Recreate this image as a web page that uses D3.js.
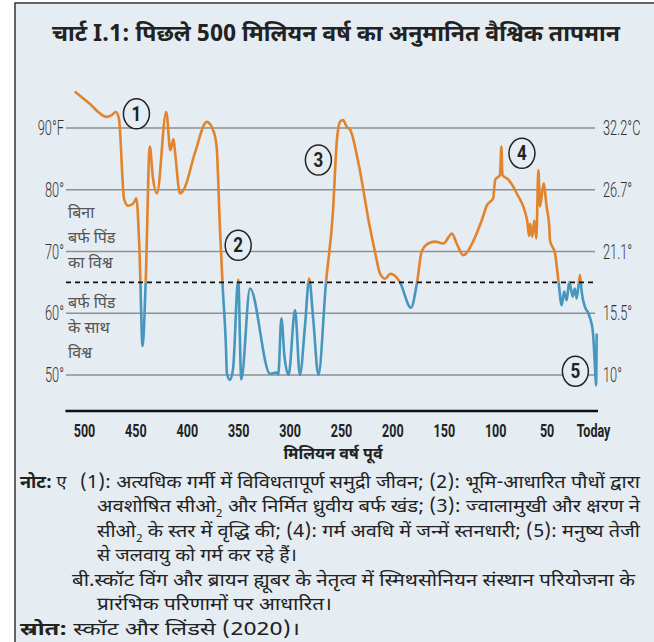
<!DOCTYPE html>
<html>
<head>
<meta charset="utf-8">
<script src="https://cdn.jsdelivr.net/npm/d3@7"></script>
<style>
  body { margin: 0; background: #fff; }
  svg { display: block; }
  .num { font-family: "Roboto", "Liberation Sans", sans-serif; }
  .dev { font-family: "Noto Sans Devanagari", "Lohit Devanagari", "FreeSans", sans-serif; }
</style>
</head>
<body>
<svg id="chart" width="654" height="642"></svg>
<script>
// million years ago, estimated global temperature (°F)
var mya = [509, 495, 478, 473, 469, 466, 461, 457, 452, 449, 446, 443, 440, 436, 433, 429,
  420, 416, 413, 411.5, 406.6, 403, 392, 380.6, 374.5, 371, 367.7, 365, 362, 361, 358, 355,
  350, 347, 338.5, 319, 313, 311, 308, 305, 301, 294.7, 290, 285, 281, 277, 272, 264.6,
  258, 254, 251, 248, 244.5, 241, 233, 222, 217, 212, 207, 202, 196, 192.6, 182, 176,
  171.5, 165, 158.6, 150.5, 142, 137.5, 131, 121, 113, 108, 102, 100, 95.3, 94, 93, 87,
  79, 69, 67, 66, 64, 62, 60, 58, 56.4, 53, 50, 47.4, 46.7, 41.8, 38.6, 35.3, 33, 30.5,
  28, 24.6, 22.5, 20.7, 17.5, 15.9, 12.6, 9.4, 5.2, 2.9, 1.9, 1.3];
var tempF = [95.9, 94.0, 91.8, 92.1, 92.6, 91.5, 78.5, 77.4, 77.8, 78.6, 70, 54.7, 65, 87, 82, 79.4,
  92.6, 86.4, 88.2, 86.2, 79.4, 80, 86, 91, 89.7, 87, 73.5, 64, 55, 50.2, 49.2, 51,
  65.4, 49.3, 64, 50.2, 50.4, 50.1, 59.2, 53, 50, 60.5, 50, 58, 65.6, 59, 50, 65,
  76, 88, 91, 91.3, 90.2, 89.7, 84.3, 74, 70, 66.4, 65.6, 66.4, 65.8, 65, 60.9, 65,
  70, 71.3, 71.6, 71.3, 72.9, 71.3, 69.4, 71.8, 75.1, 77.5, 78.6, 81.6, 82.4, 87, 82.4, 81.6,
  79.4, 75.1, 72.5, 74.5, 72.4, 75, 72.1, 83.2, 77.3, 81, 77.3, 74, 71.8, 69.7, 65.4, 61.3, 63.5, 62.1,
  65.1, 62.7, 64, 62.4, 66.2, 63.5, 61, 60, 57.3, 51.3, 48.3, 56.7];

var gridF = [90, 80, 70, 60, 50];
var leftLabels = ["90°F", "80°", "70°", "60°", "50°"];
var rightLabels = ["32.2°C", "26.7°", "21.1°", "15.5°", "10°"];
var iceLine = 65;
var xTicks = [500, 450, 400, 350, 300, 250, 200, 150, 100, 50, 0];

// numbered events: [mya, °F]
var eventNo = ["1", "2", "3", "4", "5"];
var eventAt = [[449, 92.3], [350, 71.0], [272, 84.8], [74, 85.9], [22, 50.6]];

var title = "चार्ट I.1: पिछले 500 मिलियन वर्ष का अनुमानित वैश्विक तापमान";

var svg = d3.select("#chart");
var orange = "#e3832b", blue = "#4696bd", bg = "#e5ecf2";

svg.append("rect").attr("x", 15).attr("y", 3).attr("width", 700).attr("height", 700)
  .attr("fill", bg).attr("stroke", "#333").attr("stroke-width", 1.5);

svg.append("text").attr("class", "dev").attr("x", 52).attr("y", 41)
  .attr("textLength", 568).attr("lengthAdjust", "spacingAndGlyphs")
  .attr("font-size", 23).attr("font-weight", "bold").attr("fill", "#222").text(title);

var x = d3.scaleLinear().domain([500, 0]).range([84, 598]);
var y = d3.scaleLinear().domain([50, 90]).range([375, 128]);

// grid lines + labels (condensed by horizontal scaling)
var g = svg.append("g");
g.selectAll("line.grid").data(gridF).enter().append("line")
  .attr("x1", 66).attr("x2", 595)
  .attr("y1", d => y(d)).attr("y2", d => y(d))
  .attr("stroke", "#8c9196").attr("stroke-width", 1.6);
g.selectAll("text.l").data(gridF).enter().append("text").attr("class", "num")
  .attr("transform", d => "translate(64," + (y(d) + 7) + ") scale(0.64,1)")
  .attr("text-anchor", "end").attr("font-weight", 300)
  .attr("font-size", 20).attr("fill", "#333").text((d, i) => leftLabels[i]);
g.selectAll("text.r").data(gridF).enter().append("text").attr("class", "num")
  .attr("transform", d => "translate(603," + (y(d) + 7) + ") scale(0.64,1)")
  .attr("font-weight", 300)
  .attr("font-size", 20).attr("fill", "#333").text((d, i) => rightLabels[i]);

// clip regions above / below the ice threshold
var defs = svg.append("defs");
defs.append("clipPath").attr("id", "above").append("rect")
  .attr("x", 0).attr("y", 0).attr("width", 654).attr("height", y(iceLine));
defs.append("clipPath").attr("id", "below").append("rect")
  .attr("x", 0).attr("y", y(iceLine)).attr("width", 654).attr("height", 400);

var pts = mya.map((m, i) => [m, tempF[i]]);
var line = d3.line().x(d => x(d[0])).y(d => y(d[1])).curve(d3.curveMonotoneX);

svg.append("path").attr("d", line(pts)).attr("fill", "none").attr("stroke", orange)
  .attr("stroke-width", 2.6).attr("stroke-linejoin", "round").attr("clip-path", "url(#above)");
svg.append("path").attr("d", line(pts)).attr("fill", "none").attr("stroke", blue)
  .attr("stroke-width", 2.6).attr("stroke-linejoin", "round").attr("clip-path", "url(#below)");

svg.append("line").attr("x1", 66).attr("x2", 595)
  .attr("y1", y(iceLine)).attr("y2", y(iceLine))
  .attr("stroke", "#111").attr("stroke-width", 1.6).attr("stroke-dasharray", "5,4");

// side notes
var noIce = ["बिना", "बर्फ पिंड", "का विश्व"];
var withIce = ["बर्फ पिंड", "के साथ", "विश्व"];
svg.selectAll("text.noice").data(noIce).enter().append("text").attr("class", "dev")
  .attr("x", 68).attr("y", (d, i) => 218 + i * 25).attr("font-size", 16).attr("fill", "#555").text(d => d);
svg.selectAll("text.ice").data(withIce).enter().append("text").attr("class", "dev")
  .attr("x", 68).attr("y", (d, i) => 308 + i * 25).attr("font-size", 16).attr("fill", "#555").text(d => d);

// event circles
var ev = svg.selectAll("g.ev").data(eventAt).enter().append("g")
  .attr("transform", d => "translate(" + x(d[0]) + "," + y(d[1]) + ")");
ev.append("ellipse").attr("rx", 13).attr("ry", 15).attr("fill", bg)
  .attr("stroke", "#222").attr("stroke-width", 1.5);
ev.append("text").attr("class", "num").attr("y", 7).attr("text-anchor", "middle")
  .attr("transform", "scale(0.85,1)")
  .attr("font-size", 20).attr("font-weight", "bold").attr("fill", "#222").text((d, i) => eventNo[i]);

// x axis
svg.append("line").attr("x1", x(518)).attr("x2", x(0)).attr("y1", 411).attr("y2", 411)
  .attr("stroke", "#111").attr("stroke-width", 2.6);
var xAxis = d3.axisBottom(x).tickValues(xTicks).tickSize(0)
  .tickFormat(d => d === 0 ? "Today" : d);
var ax = svg.append("g").attr("transform", "translate(0,420)").call(xAxis);
ax.select(".domain").remove();
ax.selectAll("text").attr("class", "num").attr("font-size", 19).attr("font-weight", "bold")
  .attr("fill", "#222").attr("transform", d => "translate(" + (d === 0 ? -5 : 0) + ",0) scale(0.66,1)");
svg.append("text").attr("class", "dev").attr("x", 333).attr("y", 459).attr("text-anchor", "middle")
  .attr("font-size", 16).attr("font-weight", "bold").attr("fill", "#222").text("मिलियन वर्ष पूर्व");

// notes
var notes = svg.append("g").attr("class", "dev").attr("font-size", 18).attr("fill", "#222");
var t1 = notes.append("text").attr("x", 20).attr("y", 488);
t1.append("tspan").attr("font-weight", "bold").text("नोट:");
t1.append("tspan").text(" ए");
notes.append("text").attr("x", 80).attr("y", 488).attr("textLength", 560).attr("lengthAdjust", "spacingAndGlyphs")
  .text("(1): अत्यधिक गर्मी में विविधतापूर्ण समुद्री जीवन; (2): भूमि-आधारित पौधों द्वारा");
var t2 = notes.append("text").attr("x", 97).attr("y", 512).attr("textLength", 543).attr("lengthAdjust", "spacingAndGlyphs");
t2.append("tspan").text("अवशोषित सीओ");
t2.append("tspan").attr("font-size", 11).attr("dy", 5).text("2");
t2.append("tspan").attr("dy", -5).text(" और निर्मित ध्रुवीय बर्फ खंड; (3): ज्वालामुखी और क्षरण ने");
var t3 = notes.append("text").attr("x", 97).attr("y", 537).attr("textLength", 543).attr("lengthAdjust", "spacingAndGlyphs");
t3.append("tspan").text("सीओ");
t3.append("tspan").attr("font-size", 11).attr("dy", 5).text("2");
t3.append("tspan").attr("dy", -5).text(" के स्तर में वृद्धि की; (4): गर्म अवधि में जन्में स्तनधारी; (5): मनुष्य तेजी");
notes.append("text").attr("x", 97).attr("y", 561).attr("textLength", 200).attr("lengthAdjust", "spacingAndGlyphs")
  .text("से जलवायु को गर्म कर रहे हैं।");
notes.append("text").attr("x", 72).attr("y", 586).attr("textLength", 563).attr("lengthAdjust", "spacingAndGlyphs")
  .text("बी.स्कॉट विंग और ब्रायन ह्यूबर के नेतृत्व में स्मिथसोनियन संस्थान परियोजना के");
notes.append("text").attr("x", 97).attr("y", 610).attr("textLength", 235).attr("lengthAdjust", "spacingAndGlyphs")
  .text("प्रारंभिक परिणामों पर आधारित।");
var t7 = notes.append("text").attr("x", 20).attr("y", 635).attr("textLength", 280).attr("lengthAdjust", "spacingAndGlyphs");
t7.append("tspan").attr("font-weight", "bold").text("स्रोत:");
t7.append("tspan").text(" स्कॉट और लिंडसे (2020)।");
</script>
</body>
</html>
